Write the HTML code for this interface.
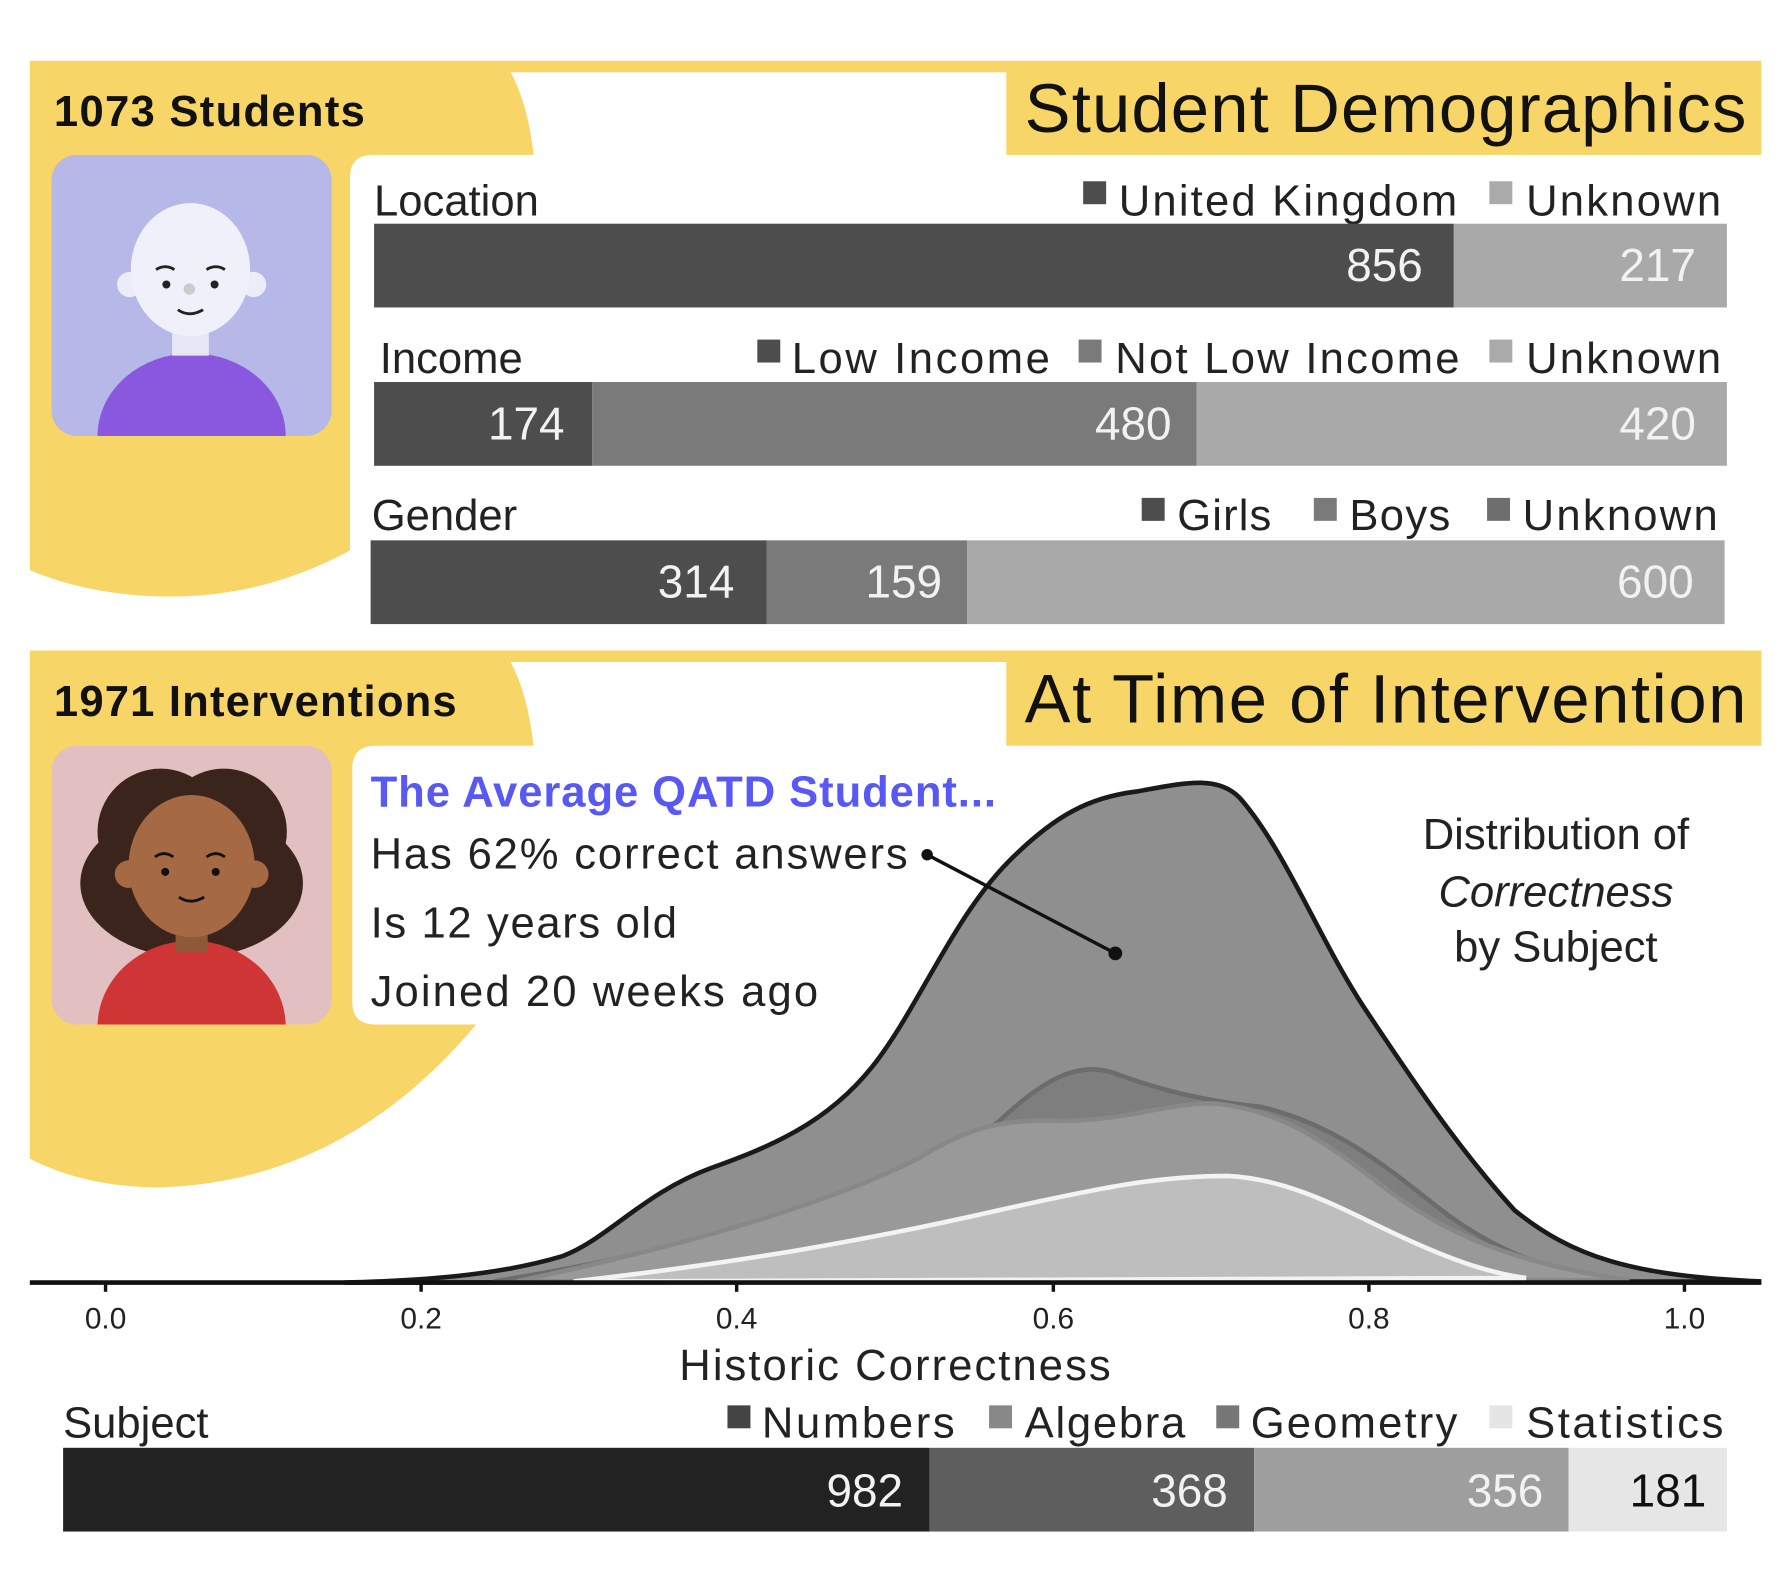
<!DOCTYPE html>
<html><head><meta charset="utf-8"><style>
html,body{margin:0;padding:0;background:#fff;width:1790px;height:1574px;overflow:hidden}
svg{display:block}
text{font-family:"Liberation Sans",sans-serif}
</style></head><body>
<svg width="1790" height="1574" viewBox="0 0 1560 1372" preserveAspectRatio="none" xmlns="http://www.w3.org/2000/svg">
<rect width="1560" height="1372" fill="#fff"/>
<path d="M26,53 H1535 V135 H877 V63 H445 Q460,90 465,135 H325 Q305,135 305,155 V480 Q230,520 150,520 Q80,520 26,497 Z" fill="#F7D566"/>
<text x="47" y="110" font-size="38" font-weight="bold" textLength="271" fill="#111">1073 Students</text>
<text x="893" y="115" font-size="60" textLength="629" fill="#111">Student Demographics</text>
<rect x="45" y="135" width="244" height="245" rx="22" fill="#B6B8E8"/>
<clipPath id="c1"><rect x="45" y="135" width="244" height="245" rx="22"/></clipPath>
<g clip-path="url(#c1)">
<ellipse cx="167" cy="380" rx="82" ry="72" fill="#8A58DE"/>
<rect x="150" y="285" width="32" height="25" fill="#e6e6f5"/>
<circle cx="113" cy="248" r="11" fill="#ececf8"/><circle cx="221" cy="248" r="11" fill="#ececf8"/>
<ellipse cx="166" cy="235" rx="52" ry="58" fill="#F0F0FA"/>
<circle cx="145" cy="248" r="3.5" fill="#222"/><circle cx="187" cy="248" r="3.5" fill="#222"/>
<path d="M136,235 q8,-5 16,0 M180,235 q8,-5 16,0 M155,270 q10,7 22,0" stroke="#222" stroke-width="2.5" fill="none"/>
<circle cx="165" cy="252" r="5" fill="#ccc"/>
</g>
<text x="326" y="188" font-size="38" fill="#222">Location</text>
<rect x="944" y="158" width="20" height="20" fill="#4d4d4d"/><text x="975" y="188" font-size="38" textLength="295" fill="#222">United Kingdom</text>
<rect x="1298" y="158" width="20" height="20" fill="#aaa"/><text x="1330" y="188" font-size="38" textLength="170" fill="#222">Unknown</text>
<rect x="326" y="195" width="941" height="73" fill="#4d4d4d"/><rect x="1267" y="195" width="238" height="73" fill="#a9a9a9"/>
<text x="331" y="325" font-size="38" fill="#222">Income</text>
<rect x="660" y="296" width="20" height="20" fill="#4d4d4d"/><text x="690" y="325" font-size="38" textLength="225" fill="#222">Low Income</text>
<rect x="940" y="296" width="20" height="20" fill="#7a7a7a"/><text x="972" y="325" font-size="38" textLength="300" fill="#222">Not Low Income</text>
<rect x="1298" y="296" width="20" height="20" fill="#aaa"/><text x="1330" y="325" font-size="38" textLength="170" fill="#222">Unknown</text>
<rect x="326" y="333" width="190" height="73" fill="#4d4d4d"/><rect x="516" y="333" width="527" height="73" fill="#7a7a7a"/><rect x="1043" y="333" width="462" height="73" fill="#a9a9a9"/>
<text x="324" y="462" font-size="38" fill="#222">Gender</text>
<rect x="995" y="434" width="20" height="20" fill="#4d4d4d"/><text x="1026" y="462" font-size="38" textLength="82" fill="#222">Girls</text>
<rect x="1145" y="434" width="20" height="20" fill="#7a7a7a"/><text x="1176" y="462" font-size="38" textLength="88" fill="#222">Boys</text>
<rect x="1296" y="434" width="20" height="20" fill="#6e6e6e"/><text x="1327" y="462" font-size="38" textLength="170" fill="#222">Unknown</text>
<rect x="323" y="471" width="345" height="73" fill="#4d4d4d"/><rect x="668" y="471" width="175" height="73" fill="#7a7a7a"/><rect x="843" y="471" width="660" height="73" fill="#a9a9a9"/>
<g font-size="40" fill="#f2f2f2" text-anchor="end">
<text x="1240" y="245">856</text><text x="1478" y="245">217</text>
<text x="492" y="383">174</text><text x="1021" y="383">480</text><text x="1478" y="383">420</text>
<text x="640" y="521">314</text><text x="821" y="521">159</text><text x="1476" y="521">600</text>
</g>
<path d="M26,567 H1535 V650 H877 V577 H445 Q460,605 465,650 H327 Q307,650 307,670 V873 Q307,893 327,893 H415 Q300,1030 140,1035 Q75,1035 26,1010 Z" fill="#F7D566"/>
<text x="47" y="624" font-size="38" font-weight="bold" textLength="351" fill="#111">1971 Interventions</text>
<text x="893" y="630" font-size="60" textLength="629" fill="#111">At Time of Intervention</text>
<rect x="45" y="650" width="244" height="243" rx="22" fill="#E2BFC0"/>
<clipPath id="c2"><rect x="45" y="650" width="244" height="243" rx="22"/></clipPath>
<g clip-path="url(#c2)">
<circle cx="140" cy="725" r="55" fill="#3A241C"/><circle cx="195" cy="725" r="55" fill="#3A241C"/>
<ellipse cx="167" cy="770" rx="97" ry="65" fill="#3A241C"/>
<ellipse cx="167" cy="895" rx="82" ry="75" fill="#CF3535"/>
<rect x="153" y="810" width="28" height="20" fill="#8c5a38"/>
<circle cx="112" cy="762" r="12" fill="#A56A44"/><circle cx="222" cy="762" r="12" fill="#A56A44"/>
<ellipse cx="167" cy="755" rx="55" ry="62" fill="#A56A44"/>
<circle cx="144" cy="760" r="3.5" fill="#111"/><circle cx="188" cy="760" r="3.5" fill="#111"/>
<path d="M135,747 q8,-6 16,0 M180,747 q8,-6 16,0 M156,782 q10,7 22,0" stroke="#111" stroke-width="2.5" fill="none"/>
</g>
<path d="M300,1118 C380,1116 440,1110 490,1095 C530,1080 560,1040 620,1018 C670,1000 720,980 760,930 C800,880 830,800 880,750 C920,710 950,695 990,690 C1030,683 1060,675 1080,695 C1120,740 1150,820 1190,880 C1230,940 1270,1000 1320,1055 C1370,1095 1420,1112 1535,1117 Z" fill="#8f8f8f" stroke="#1a1a1a" stroke-width="4"/>
<path d="M430,1117 C600,1090 780,1040 870,978 C910,940 940,925 970,935 C1010,950 1050,960 1100,965 C1160,980 1200,1010 1250,1050 C1300,1090 1350,1108 1400,1114 Z" fill="#7e7e7e" stroke="#6c6c6c" stroke-width="4"/>
<path d="M450,1117 C600,1085 720,1050 800,1010 C840,985 870,975 920,977 C980,978 1020,960 1060,962 C1120,968 1160,1000 1200,1030 C1250,1070 1310,1100 1420,1116 Z" fill="#999" stroke="#888" stroke-width="4"/>
<path d="M500,1117 C650,1100 760,1080 870,1055 C960,1035 1010,1025 1070,1025 C1130,1028 1180,1060 1230,1082 C1270,1100 1300,1110 1330,1114 Z" fill="#bebebe" stroke="#f3f3f3" stroke-width="4"/>
<line x1="26" y1="1118" x2="1535" y2="1118" stroke="#111" stroke-width="4"/>
<g stroke="#111" stroke-width="3">
<line x1="92" y1="1118" x2="92" y2="1126"/><line x1="367" y1="1118" x2="367" y2="1126"/><line x1="642" y1="1118" x2="642" y2="1126"/><line x1="918" y1="1118" x2="918" y2="1126"/><line x1="1193" y1="1118" x2="1193" y2="1126"/><line x1="1468" y1="1118" x2="1468" y2="1126"/>
</g>
<g font-size="26" fill="#222" text-anchor="middle" font-family="DejaVu Sans Mono, monospace">
<text x="92" y="1158">0.0</text><text x="367" y="1158">0.2</text><text x="642" y="1158">0.4</text><text x="918" y="1158">0.6</text><text x="1193" y="1158">0.8</text><text x="1468" y="1158">1.0</text>
</g>
<text x="780" y="1203" font-size="38" text-anchor="middle" textLength="376" fill="#222">Historic Correctness</text>
<text x="323" y="703" font-size="38" font-weight="bold" fill="#5858F5" textLength="545">The Average QATD Student...</text>
<text x="323" y="757" font-size="38" fill="#222" textLength="468">Has 62% correct answers</text>
<text x="323" y="817" font-size="38" fill="#222" textLength="267">Is 12 years old</text>
<text x="323" y="877" font-size="38" fill="#222" textLength="390">Joined 20 weeks ago</text>
<line x1="808" y1="745" x2="972" y2="831" stroke="#111" stroke-width="3"/>
<circle cx="808" cy="745" r="5" fill="#111"/><circle cx="972" cy="831" r="6" fill="#111"/>
<g font-size="38" fill="#222" text-anchor="middle">
<text x="1356" y="740">Distribution of</text>
<text x="1356" y="790" font-style="italic">Correctness</text>
<text x="1356" y="838">by Subject</text>
</g>
<text x="55" y="1253" font-size="38" fill="#222">Subject</text>
<rect x="634" y="1225" width="20" height="20" fill="#444"/><text x="664" y="1253" font-size="38" textLength="168" fill="#222">Numbers</text>
<rect x="862" y="1225" width="20" height="20" fill="#888"/><text x="893" y="1253" font-size="38" textLength="140" fill="#222">Algebra</text>
<rect x="1060" y="1225" width="20" height="20" fill="#777"/><text x="1090" y="1253" font-size="38" textLength="180" fill="#222">Geometry</text>
<rect x="1298" y="1225" width="20" height="20" fill="#e5e5e5"/><text x="1330" y="1253" font-size="38" textLength="172" fill="#222">Statistics</text>
<rect x="55" y="1262" width="755" height="73" fill="#222"/><rect x="810" y="1262" width="283" height="73" fill="#5e5e5e"/><rect x="1093" y="1262" width="274" height="73" fill="#9e9e9e"/><rect x="1367" y="1262" width="138" height="73" fill="#e6e6e6"/>
<g font-size="40" text-anchor="end">
<text x="787" y="1313" fill="#f2f2f2">982</text><text x="1070" y="1313" fill="#f2f2f2">368</text><text x="1345" y="1313" fill="#f2f2f2">356</text><text x="1487" y="1313" fill="#111">181</text>
</g>
</svg>
</body></html>
